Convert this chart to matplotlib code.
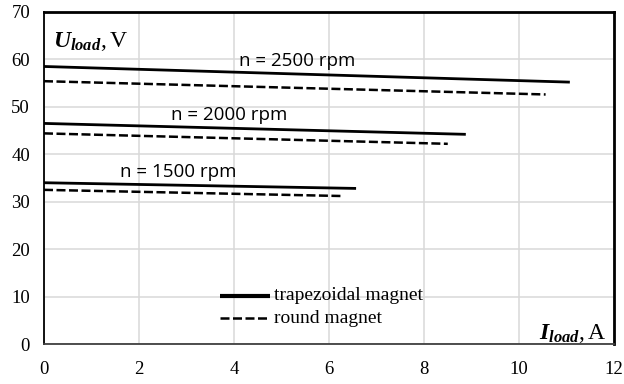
import matplotlib
matplotlib.use("Agg")
import matplotlib.pyplot as plt

# Load current (A) and output voltage (V) at each speed, first and last points of each curve
speeds = ["n = 2500 rpm", "n = 2000 rpm", "n = 1500 rpm"]
trap_i = [[0.0, 11.07], [0.0, 8.88], [0.0, 6.57]]
trap_u = [[58.5, 55.2], [46.5, 44.2], [34.0, 32.8]]
round_i = [[0.0, 10.56], [0.0, 8.50], [0.0, 6.27]]
round_u = [[55.4, 52.6], [44.4, 42.2], [32.5, 31.2]]
label_pos = [(5.33, 59.6), (3.9, 48.3), (2.82, 36.3)]

x_ticks = [0, 2, 4, 6, 8, 10, 12]
y_ticks = [0, 10, 20, 30, 40, 50, 60, 70]

plt.rcParams["mathtext.fontset"] = "custom"
plt.rcParams["mathtext.it"] = "Liberation Serif:italic:bold"
plt.rcParams["mathtext.rm"] = "Liberation Serif"
plt.rcParams["mathtext.bf"] = "Liberation Serif:bold"

fig = plt.figure(figsize=(6.24, 3.84), dpi=100)
ax = fig.add_axes([0.0705, 0.104, 0.9135, 0.865])

serif = "Liberation Serif"
sans = "Open Sans"
dash = (0, (3.6, 1.4))

for k in range(len(speeds)):
    ax.plot(trap_i[k], trap_u[k], color="black", lw=2.0, solid_capstyle="butt", zorder=3)
    ax.plot(round_i[k], round_u[k], color="black", lw=1.8, ls=dash, zorder=3)
    ax.text(label_pos[k][0], label_pos[k][1], speeds[k], fontsize=13.5, family=sans,
            ha="center", va="center", zorder=4)

ax.set_xlim(0, 12)
ax.set_ylim(0, 70)
ax.set_xticks(x_ticks)
ax.set_yticks(y_ticks)
ax.tick_params(length=0, labelsize=13.5)
ax.tick_params(axis="x", pad=12)
ax.tick_params(axis="y", pad=10)
for lab in ax.get_xticklabels() + ax.get_yticklabels():
    lab.set_family(serif)
ax.grid(True, color="#d9d9d9", lw=1.1, zorder=0)
ax.set_axisbelow(True)

for side in ["top", "right"]:
    ax.spines[side].set_linewidth(2.0)
for side in ["left", "bottom"]:
    ax.spines[side].set_linewidth(1.3)
ax.spines["bottom"].set_color("#404040")

ax.text(0.2, 63.8, r"$U_{load},\mathrm{V}$", fontsize=17, ha="left", va="center")
ax.text(11.85, 2.4, r"$I_{load},\mathrm{A}$", fontsize=17, ha="right", va="center")

# legend drawn inside the plot area
ax.plot([3.7, 4.76], [10.2, 10.2], color="black", lw=3.0, solid_capstyle="butt")
ax.plot([3.7, 4.76], [5.4, 5.4], color="black", lw=1.8, ls=dash)
ax.text(4.85, 10.2, "trapezoidal magnet", family=serif, fontsize=14, va="center")
ax.text(4.85, 5.4, "round magnet", family=serif, fontsize=14, va="center")

fig.savefig("out.png", dpi=100)
